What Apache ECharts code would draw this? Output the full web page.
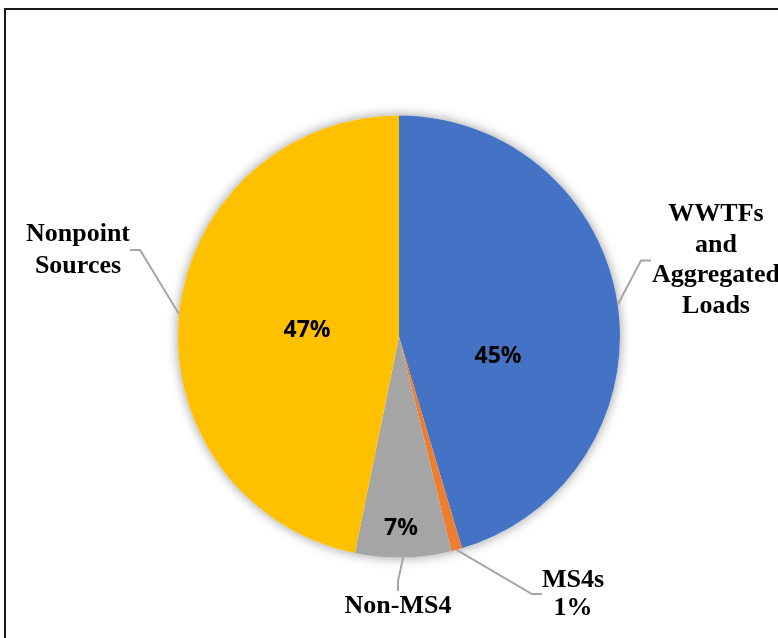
<!DOCTYPE html>
<html>
<head>
<meta charset="utf-8">
<script src="https://cdn.jsdelivr.net/npm/echarts@6/dist/echarts.min.js"></script>
<style>
  html, body { margin: 0; padding: 0; background: #ffffff; }
  #chart { width: 778px; height: 638px; }
</style>
</head>
<body>
<div id="chart"></div>
<script>
// ---- data ----
const categories = ['WWTFs and Aggregated Loads', 'MS4s', 'Non-MS4', 'Nonpoint Sources'];
const shares = [45.4, 0.8, 7.0, 46.8];
const insideLabels = ['45%', '', '7%', '47%'];
const outsideLabels = ['WWTFs\nand\nAggregated\nLoads', 'MS4s\n1%', 'Non-MS4', 'Nonpoint\nSources'];

// ---- style / layout ----
const colors = ['#4472C4', '#ED7D31', '#A5A5A5', '#FFC000'];
const pieCenter = [399, 336.5];
const pieRadius = 221;
const insideLabelPos = [[498, 356], null, [401, 528], [307, 330]];
const outsideLabelPos = [[716, 260.5], [573, 594], [398, 606], [78, 250]];
const outsideLineHeight = [30.5, 28, 30, 32];

const chart = echarts.init(document.getElementById('chart'), null, { renderer: 'canvas' });

const insideData = categories.map((name, i) => ({
  name: name,
  value: shares[i],
  itemStyle: { color: colors[i] },
  label: { show: insideLabels[i] !== '', formatter: insideLabels[i] }
}));

const outsideData = categories.map((name, i) => ({
  name: name,
  value: shares[i],
  label: {
    formatter: outsideLabels[i],
    lineHeight: outsideLineHeight[i],
    width: i === 0 ? 130 : undefined
  }
}));

const option = {
  backgroundColor: '#ffffff',
  animation: false,
  graphic: [{
    type: 'rect',
    shape: { x: 5, y: 9, width: 800, height: 700 },
    style: { fill: 'none', stroke: '#1a1a1a', lineWidth: 2 },
    silent: true,
    z: 100
  }],
  series: [
    {
      // soft shadow behind the pie
      type: 'pie',
      center: pieCenter,
      radius: pieRadius,
      silent: true,
      z: 1,
      label: { show: false },
      labelLine: { show: false },
      itemStyle: { color: '#ffffff', shadowBlur: 12, shadowColor: 'rgba(0,0,0,0.4)' },
      data: [{ value: 1 }]
    },
    {
      type: 'pie',
      center: pieCenter,
      radius: pieRadius,
      startAngle: 90,
      clockwise: true,
      avoidLabelOverlap: false,
      z: 2,
      label: {
        show: true,
        position: 'inside',
        fontFamily: 'Open Sans',
        fontWeight: 'bold',
        fontSize: 23,
        color: '#000000'
      },
      labelLine: { show: false },
      labelLayout: function (p) {
        const pos = insideLabelPos[p.dataIndex];
        if (!pos) return {};
        return { x: pos[0], y: pos[1], align: 'center', verticalAlign: 'middle' };
      },
      data: insideData
    },
    {
      type: 'pie',
      center: pieCenter,
      radius: pieRadius,
      startAngle: 90,
      clockwise: true,
      avoidLabelOverlap: false,
      silent: true,
      z: 3,
      itemStyle: { color: 'rgba(0,0,0,0)' },
      label: {
        show: true,
        position: 'outside',
        alignTo: 'none',
        fontFamily: 'Liberation Serif',
        fontWeight: 'bold',
        fontSize: 26,
        color: '#000000',
        align: 'center'
      },
      labelLine: {
        show: true,
        length: 15,
        length2: 10,
        smooth: false,
        lineStyle: { color: '#A6A6A6', width: 2 }
      },
      labelLayout: function (p) {
        const pos = outsideLabelPos[p.dataIndex];
        return { x: pos[0], y: pos[1], align: 'center', verticalAlign: 'middle' };
      },
      data: outsideData
    }
  ]
};

chart.setOption(option);
</script>
</body>
</html>
